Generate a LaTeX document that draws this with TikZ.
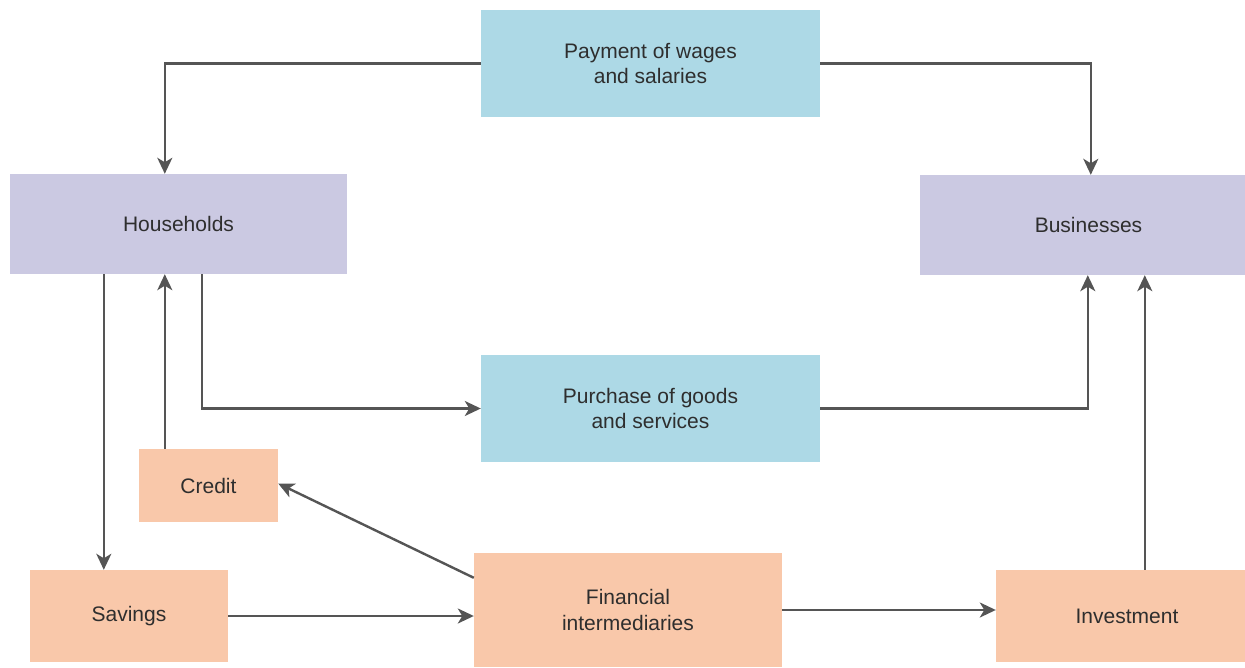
\documentclass[tikz,border=0pt]{standalone}
\usepackage{fontspec}
\setmainfont{Liberation Sans}
\usetikzlibrary{arrows.meta}
\definecolor{flowblue}{HTML}{ADD9E6}
\definecolor{agentlav}{HTML}{CBC9E2}
\definecolor{finpeach}{HTML}{F9C8AA}
\definecolor{linegray}{HTML}{555555}
\definecolor{textgray}{HTML}{2E2E2E}
\tikzset{
  box/.style={rectangle, inner sep=0pt, align=center, text=textgray,
    font=\fontsize{21}{25.5}\selectfont},
  flowbox/.style={box, fill=flowblue},
  agentbox/.style={box, fill=agentlav},
  finbox/.style={box, fill=finpeach},
  link/.style={draw=linegray, line width=2.4pt,
    -{Stealth[length=16pt,width=15pt,inset=4.5pt]}}
}
\begin{document}
\begin{tikzpicture}[x=1pt,y=-1pt]
\useasboundingbox (0,0) rectangle (1245,668);
% boxes (centre, size)
\node[flowbox, minimum width=339pt, minimum height=107pt] (pay) at (650.5,63.5) {Payment of wages\\and salaries};
\node[agentbox, minimum width=337pt, minimum height=100pt] (hh) at (178.5,224) {Households};
\node[agentbox, minimum width=325pt, minimum height=100pt] (bus) at (1082.5,225) {\hspace*{12pt}Businesses};
\node[flowbox, minimum width=339pt, minimum height=107pt] (pur) at (650.5,408.5) {Purchase of goods\\and services};
\node[finbox, minimum width=139pt, minimum height=73pt] (cr) at (208.5,485.5) {Credit};
\node[finbox, minimum width=198pt, minimum height=92pt] (sav) at (129,616) {Savings};
\node[finbox, minimum width=308pt, minimum height=114pt] (fin) at (628,610) {Financial\\intermediaries};
\node[finbox, minimum width=249pt, minimum height=92pt] (inv) at (1120.5,616) {\hspace*{13pt}Investment};
% income flows
\draw[link] (pay.west) -| ([xshift=155pt]hh.north west);
\draw[link] (pay.east) -| ([xshift=171pt]bus.north west);
% spending flows
\draw[link] ([xshift=192pt]hh.south west) |- (pur.west);
\draw[link] (pur.east) -| ([xshift=168pt]bus.south west);
% saving and credit
\draw[link] ([xshift=94pt]hh.south west) -- ([xshift=94pt]hh.south west |- sav.north);
\draw[link] ([xshift=26pt]cr.north west) -- ([xshift=26pt]cr.north west |- hh.south);
\draw[link] (sav.east) -- (sav.east -| fin.west);
\draw[link] ([yshift=-25pt]fin.north west) -- ([yshift=2pt]cr.east);
\draw[link] (fin.east) -- (fin.east -| inv.west);
\draw[link] ([xshift=149pt]inv.north west) -- ([xshift=149pt]inv.north west |- bus.south);
\end{tikzpicture}
\end{document}
